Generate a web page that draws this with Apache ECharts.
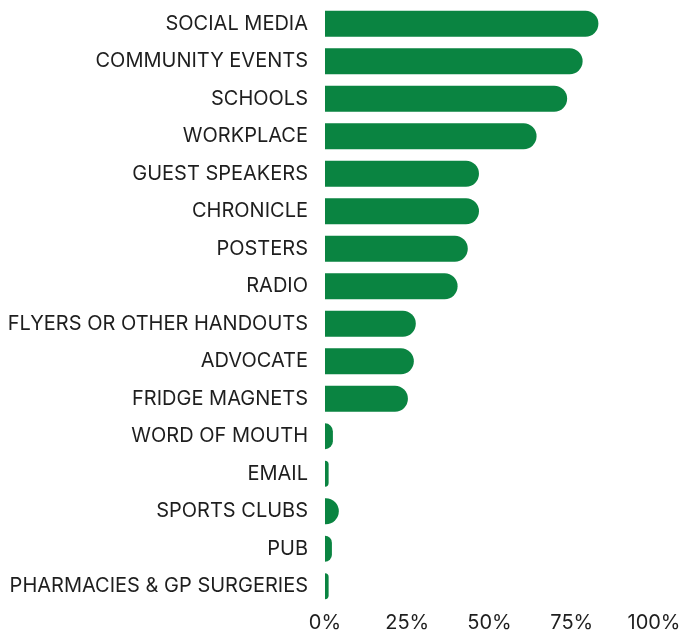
<!DOCTYPE html>
<html>
<head>
<meta charset="utf-8">
<script src="https://cdn.jsdelivr.net/npm/echarts@6/dist/echarts.min.js"></script>
<style>
  html, body { margin: 0; padding: 0; background: #ffffff; }
  #chart { width: 685px; height: 633px; }
</style>
</head>
<body>
<div id="chart"></div>
<script>
// Channels, listed top to bottom
const categories = [
  'SOCIAL MEDIA',
  'COMMUNITY EVENTS',
  'SCHOOLS',
  'WORKPLACE',
  'GUEST SPEAKERS',
  'CHRONICLE',
  'POSTERS',
  'RADIO',
  'FLYERS OR OTHER HANDOUTS',
  'ADVOCATE',
  'FRIDGE MAGNETS',
  'WORD OF MOUTH',
  'EMAIL',
  'SPORTS CLUBS',
  'PUB',
  'PHARMACIES & GP SURGERIES'
];

// Share of respondents (%)
const values = [83.1, 78.3, 73.6, 64.3, 46.8, 46.8, 43.4, 40.3, 27.6, 27.0, 25.2, 2.4, 1.1, 4.2, 2.1, 1.1];

// Value axis ticks
const tickValues = [0, 25, 50, 75, 100];

const chart = echarts.init(document.getElementById('chart'));

chart.setOption({
  backgroundColor: '#ffffff',
  animation: false,
  grid: { left: 325, right: 31, top: 5, bottom: 25, containLabel: false },
  xAxis: {
    type: 'value',
    min: tickValues[0],
    max: tickValues[tickValues.length - 1],
    interval: 25,
    axisLine: { show: false },
    axisTick: { show: false },
    splitLine: { show: false },
    axisLabel: {
      formatter: v => v + '%',
      color: '#1e1e1e',
      fontFamily: 'Inter',
      fontSize: 20,
      margin: 8
    }
  },
  yAxis: {
    type: 'category',
    inverse: true,
    data: categories,
    axisLine: { show: false },
    axisTick: { show: false },
    splitLine: { show: false },
    axisLabel: {
      color: '#1e1e1e',
      fontFamily: 'Inter',
      fontSize: 20,
      margin: 17,
      padding: [3, 0, 0, 0]
    }
  },
  series: [{
    type: 'bar',
    data: values,
    barCategoryGap: '31%',
    itemStyle: {
      color: '#0a8441',
      borderRadius: [0, 13, 13, 0]
    }
  }]
});
</script>
</body>
</html>
